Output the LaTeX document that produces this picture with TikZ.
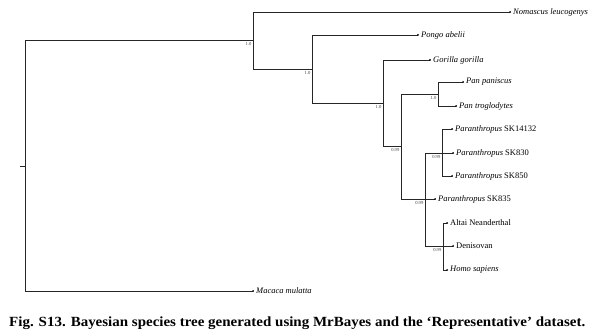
\documentclass[tikz,border=0pt]{standalone}
\usepackage{fontspec}
\setmainfont{Liberation Serif}
\usepackage{graphicx}
\begin{document}
\begin{tikzpicture}[x=1pt,y=-1pt,
  br/.style={draw=black!85,line width=0.9pt},
  leaf/.style={anchor=west,inner sep=0pt,xshift=3pt,font=\fontsize{8.5}{9}\selectfont},
  supp/.style={anchor=north east,inner sep=0pt,xshift=-1.5pt,yshift=-2pt,font=\fontsize{4.6}{5}\selectfont,text=black!75},
  tipdot/.style={fill=black,circle,inner sep=0pt,minimum size=2pt}]
\useasboundingbox (0,0) rectangle (600,336);
% internal nodes
\coordinate (root) at (25,166);
\coordinate (nA) at (253,40.5);
\coordinate (nB) at (312,69);
\coordinate (nC) at (383,103);
\coordinate (nD) at (401,146);
\coordinate (nPan) at (438,94);
\coordinate (nE) at (425,199);
\coordinate (nPar) at (442,153);
\coordinate (nHomo) at (443,246);
% tips
\coordinate (tNom) at (510,12);
\coordinate (tMac) at (253,291);
\coordinate (tPon) at (418,35);
\coordinate (tGor) at (430,60);
\coordinate (tPpa) at (463,82);
\coordinate (tPtr) at (456,106);
\coordinate (tS14) at (452,129);
\coordinate (tS830) at (453,153);
\coordinate (tS850) at (452,176);
\coordinate (tS835) at (435,199);
\coordinate (tAlt) at (447,223);
\coordinate (tDen) at (453,246);
\coordinate (tHsa) at (447,270);
% root tick
\coordinate (rtick) at (20,166);
\draw[br] (rtick) -- (root);
% branches
\draw[br] (root) |- (nA);
\draw[br] (root) |- (tMac);
\draw[br] (nA) |- (tNom);
\draw[br] (nA) |- (nB);
\draw[br] (nB) |- (tPon);
\draw[br] (nB) |- (nC);
\draw[br] (nC) |- (tGor);
\draw[br] (nC) |- (nD);
\draw[br] (nD) |- (nPan);
\draw[br] (nD) |- (nE);
\draw[br] (nPan) |- (tPpa);
\draw[br] (nPan) |- (tPtr);
\draw[br] (nE) |- (nPar);
\draw[br] (nE) -- (tS835);
\draw[br] (nE) |- (nHomo);
\draw[br] (nPar) |- (tS14);
\draw[br] (nPar) |- (tS830);
\draw[br] (nPar) |- (tS850);
\draw[br] (nHomo) |- (tAlt);
\draw[br] (nHomo) |- (tDen);
\draw[br] (nHomo) |- (tHsa);
% tip dots
\foreach \t in {tNom,tMac,tPon,tGor,tPpa,tPtr,tS14,tS830,tS850,tS835,tAlt,tDen,tHsa}
  \node[tipdot] at (\t) {};
% tip labels
\node[leaf] (lNom) at (tNom) {\itshape Nomascus leucogenys};
\node[leaf] (lMac) at (tMac) {\itshape Macaca mulatta};
\node[leaf] (lPon) at (tPon) {\itshape Pongo abelii};
\node[leaf] (lGor) at (tGor) {\itshape Gorilla gorilla};
\node[leaf] (lPpa) at (tPpa) {\itshape Pan paniscus};
\node[leaf] (lPtr) at (tPtr) {\itshape Pan troglodytes};
\node[leaf] (lS14) at (tS14) {\textit{Paranthropus} SK14132};
\node[leaf] (lS830) at (tS830) {\textit{Paranthropus} SK830};
\node[leaf] (lS850) at (tS850) {\textit{Paranthropus} SK850};
\node[leaf] (lS835) at (tS835) {\textit{Paranthropus} SK835};
\node[leaf] (lAlt) at (tAlt) {Altai Neanderthal};
\node[leaf] (lDen) at (tDen) {Denisovan};
\node[leaf] (lHsa) at (tHsa) {\itshape Homo sapiens};
% support values
\node[supp] (sA) at (nA) {1.0};
\node[supp] (sB) at (nB) {1.0};
\node[supp] (sC) at (nC) {1.0};
\node[supp] (sD) at (nD) {0.99};
\node[supp] (sPan) at (nPan) {1.0};
\node[supp] (sE) at (nE) {0.99};
\node[supp] (sPar) at (nPar) {0.99};
\node[supp] (sHomo) at (nHomo) {0.99};
% caption
\node[anchor=base west,inner sep=0pt] (cap) at (9,327)
  {\resizebox{576pt}{\height}{\bfseries\fontsize{14}{16}\selectfont Fig. S13. Bayesian species tree generated using MrBayes and the ‘Representative’ dataset.}};
\end{tikzpicture}
\end{document}
